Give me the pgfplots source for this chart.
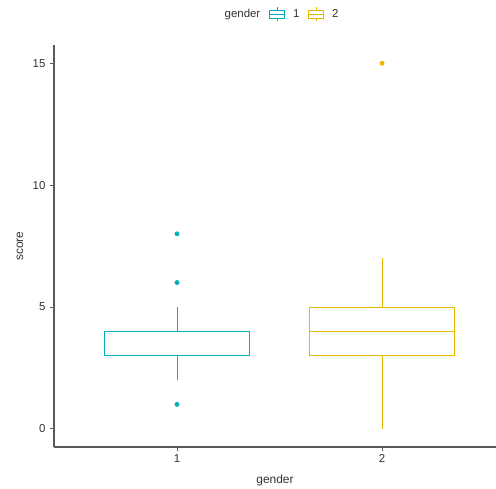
\documentclass[border=0pt]{standalone}
\usepackage{fontspec}
\setmainfont{Liberation Sans}
\usepackage{pgfplots}
\pgfplotsset{compat=1.18}
\usepgfplotslibrary{statistics}
\definecolor{c1}{HTML}{00AFBB}
\definecolor{c2}{HTML}{E7B800}
\definecolor{axc}{HTML}{5A5A5A}
\begin{document}
\begin{tikzpicture}
\useasboundingbox (-54bp,-42bp) rectangle (442bp,447bp);
\begin{axis}[
  at={(0,0)}, anchor=south west,
  scale only axis, width=442bp, height=402bp,
  xmin=0.4, xmax=2.556, ymin=-0.75, ymax=15.75,
  axis x line*=bottom, axis y line*=left,
  xtick={1,2}, ytick={0,5,10,15},
  tick align=outside, major tick length=4bp,
  tick style={axc, line width=0.8bp},
  axis line style={axc, line width=1.1bp},
  ticklabel style={font=\fontsize{11.5}{13}\selectfont, text=black!80},
  yticklabel style={xshift=-1bp},
  /pgf/number format/assume math mode=true,
  xlabel={gender}, ylabel={score},
  label style={font=\fontsize{12}{14}\selectfont, text=black!80},
  xlabel style={at={(axis description cs:0.5,-0.082)}, anchor=center},
  ylabel style={at={(axis description cs:-0.077,0.5)}, anchor=center},
  boxplot/draw direction=y,
  legend columns=-1,
  legend style={draw=none, fill=none, at={(axis description cs:0.508,1.077)}, anchor=center,
    font=\fontsize{11.5}{13}\selectfont, text=black!80,
    /tikz/every even column/.append style={column sep=7bp},
    /tikz/every odd column/.append style={column sep=6bp}},
]
\addlegendimage{empty legend}\addlegendentry{gender}
\addlegendimage{legend image code/.code={
  \draw[c1, line width=0.7bp] (0bp,-4bp) rectangle (15bp,4bp);
  \draw[c1, line width=0.7bp] (0bp,0bp) -- (15bp,0bp);
  \draw[c1, line width=0.7bp] (7.5bp,4bp) -- (7.5bp,7bp);
  \draw[c1, line width=0.7bp] (7.5bp,-4bp) -- (7.5bp,-7bp);}}
\addlegendentry{1}
\addlegendimage{legend image code/.code={
  \draw[c2, line width=0.7bp] (0bp,-4bp) rectangle (15bp,4bp);
  \draw[c2, line width=0.7bp] (0bp,0bp) -- (15bp,0bp);
  \draw[c2, line width=0.7bp] (7.5bp,4bp) -- (7.5bp,7bp);
  \draw[c2, line width=0.7bp] (7.5bp,-4bp) -- (7.5bp,-7bp);}}
\addlegendentry{2}
\addplot[forget plot, draw=c1, line width=0.8bp, mark=*, mark size=2bp,
  mark options={fill=c1, draw=c1},
  boxplot prepared={draw position=1, lower whisker=2, lower quartile=3,
    median=3, upper quartile=4, upper whisker=5, box extend=0.71, whisker extend=0}]
  coordinates {(0,8) (0,6) (0,1)};
\addplot[forget plot, draw=c2, line width=0.8bp, mark=*, mark size=2bp,
  mark options={fill=c2, draw=c2},
  boxplot prepared={draw position=2, lower whisker=0, lower quartile=3,
    median=4, upper quartile=5, upper whisker=7, box extend=0.71, whisker extend=0}]
  coordinates {(0,15)};
\end{axis}
\end{tikzpicture}
\end{document}
